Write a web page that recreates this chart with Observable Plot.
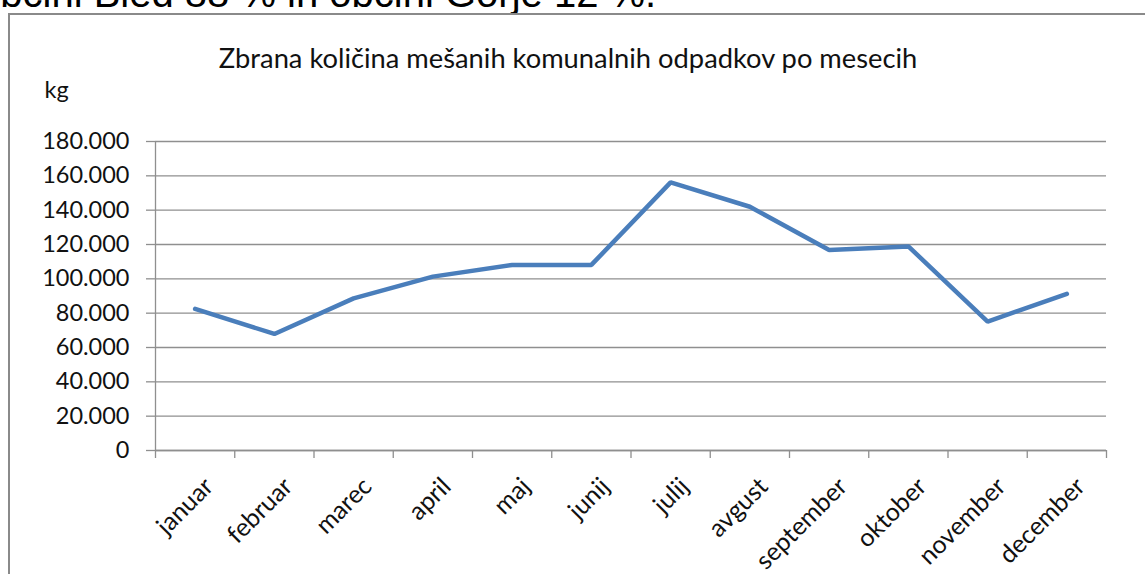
<!DOCTYPE html>
<html>
<head>
<meta charset="utf-8">
<script src="https://cdn.jsdelivr.net/npm/d3@7"></script>
<script src="https://cdn.jsdelivr.net/npm/@observablehq/plot@0.6"></script>
<style>
  html, body { margin: 0; padding: 0; background: #fff; }
  #wrap { position: relative; width: 1145px; height: 574px; overflow: hidden; background: #fff; }
  #above { position: absolute; left: -22px; top: -27px; font-family: "Liberation Sans", Arial, sans-serif; font-size: 40px; line-height: 40px; white-space: nowrap; color: #000; }
  #box { position: absolute; left: 8px; top: 13px; width: 1200px; height: 700px; border-left: 2px solid #8a8a8a; border-top: 2px solid #8a8a8a; }
  #chart { position: absolute; left: 0; top: 0; }
</style>
</head>
<body>
<div id="wrap">
  <div id="above">občini Bled 88 % in občini Gorje 12 %.</div>
  <div id="box"></div>
  <div id="chart"></div>
</div>
<script>
const title = "Zbrana količina mešanih komunalnih odpadkov po mesecih";
const yLabel = "kg";
const months = ["januar", "februar", "marec", "april", "maj", "junij", "julij", "avgust", "september", "oktober", "november", "december"];
const values = [82500, 67900, 88600, 101300, 108100, 108100, 156200, 142000, 116800, 118900, 75100, 91200];
const yTicks = [0, 20000, 40000, 60000, 80000, 100000, 120000, 140000, 160000, 180000];

const data = months.map((m, i) => ({i, month: m, value: values[i]}));
const boundaries = months.map((m, i) => i - 0.5).concat([months.length - 0.5]);
const locale = d3.formatLocale({decimal: ",", thousands: ".", grouping: [3], currency: ["", " €"]});
const fmt = locale.format(",d");

const font = "Lato, 'Open Sans', sans-serif";
const gridColor = "#8f8f8f";

const chart = Plot.plot({
  width: 1145,
  height: 574,
  marginLeft: 155,
  marginRight: 39,
  marginTop: 141,
  marginBottom: 124,
  style: {fontFamily: font, background: "transparent", color: "#111"},
  x: {type: "linear", domain: [-0.5, months.length - 0.5]},
  y: {domain: [0, 180000]},
  marks: [
    Plot.gridY(yTicks, {stroke: gridColor, strokeOpacity: 1, strokeWidth: 1.3}),
    Plot.axisY(yTicks, {tickFormat: fmt, tickSize: 9, tickPadding: 17, fontSize: 23.5, stroke: gridColor, strokeWidth: 1.3, label: null, fill: "#111"}),
    Plot.ruleX([-0.5], {stroke: gridColor, strokeWidth: 1.3}),
    Plot.ruleY([0], {stroke: gridColor, strokeWidth: 1.3}),
    Plot.axisX(boundaries, {tickSize: 8, tickFormat: () => "", stroke: gridColor, strokeWidth: 1.3, label: null}),
    Plot.line(data, {x: "i", y: "value", stroke: "#4a7ebb", strokeWidth: 4.5, strokeLinejoin: "miter", strokeLinecap: "round"}),
    Plot.text(months, {x: (d, i) => i, text: d => d, frameAnchor: "bottom", rotate: -45, textAnchor: "end", lineAnchor: "top", dx: 7, dy: 25, fontSize: 25, fill: "#111"}),
    Plot.text([title], {text: d => d, frameAnchor: "top", lineAnchor: "bottom", dx: -63, dy: -74, fontSize: 27.3, fill: "#111"}),
    Plot.text([yLabel], {text: d => d, frameAnchor: "top-left", textAnchor: "start", lineAnchor: "bottom", dx: -111, dy: -44, fontSize: 23.5, fill: "#111"})
  ]
});
document.getElementById("chart").appendChild(chart);
</script>
</body>
</html>
